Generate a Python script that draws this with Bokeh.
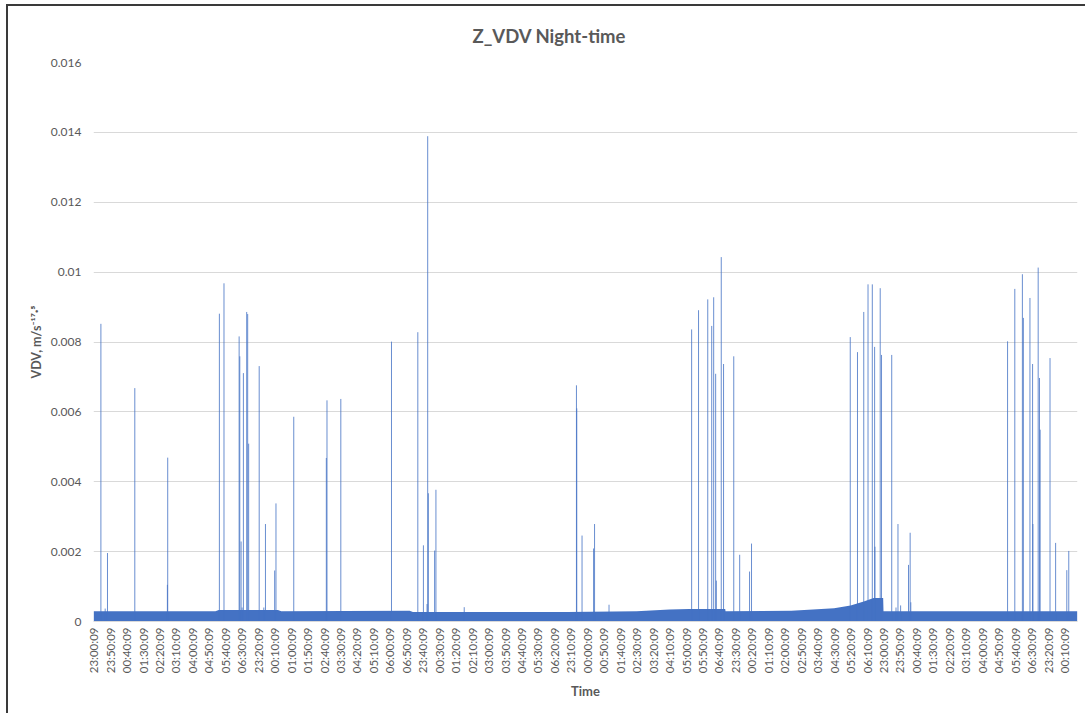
import math
from bokeh.plotting import figure
from bokeh.models import Range1d, FixedTicker, ColumnDataSource
from bokeh.embed import file_html
from bokeh.resources import INLINE

# ---------------- data ----------------
N_POINTS = 2990          # one reading per minute, 23:00:09 onwards, 6+ nights
X_TICK_STEP = 50         # Excel label interval (every 50 categories)

X_TICK_LABELS = [
    "23:00:09", "23:50:09", "00:40:09", "01:30:09", "02:20:09", "03:10:09", "04:00:09", "04:50:09", "05:40:09", "06:30:09",
    "23:20:09", "00:10:09", "01:00:09", "01:50:09", "02:40:09", "03:30:09", "04:20:09", "05:10:09", "06:00:09", "06:50:09",
    "23:40:09", "00:30:09", "01:20:09", "02:10:09", "03:00:09", "03:50:09", "04:40:09", "05:30:09", "06:20:09",
    "23:10:09", "00:00:09", "00:50:09", "01:40:09", "02:30:09", "03:20:09", "04:10:09", "05:00:09", "05:50:09", "06:40:09",
    "23:30:09", "00:20:09", "01:10:09", "02:00:09", "02:50:09", "03:40:09", "04:30:09", "05:20:09", "06:10:09",
    "23:00:09", "23:50:09", "00:40:09", "01:30:09", "02:20:09", "03:10:09", "04:00:09", "04:50:09", "05:40:09", "06:30:09",
    "23:20:09", "00:10:09",
]

Y_TICKS = [0, 0.002, 0.004, 0.006, 0.008, 0.01, 0.012, 0.014, 0.016]
Y_TICK_LABELS = ["0", "0.002", "0.004", "0.006", "0.008", "0.01", "0.012", "0.014", "0.016"]

# background level of the series (upper envelope of the dense baseline band)
BAND_IDX = [0, 370, 380, 560, 570, 960, 970, 1440, 1650, 1750, 1810, 1919,
            1920, 2120, 2250, 2300, 2340, 2370, 2399, 2400, 2989]
BAND_TOP = [0.00029, 0.00029, 0.00033, 0.00033, 0.00029, 0.00031, 0.00027, 0.00027,
            0.00029, 0.00034, 0.00036, 0.00036, 0.00029, 0.00031, 0.00038, 0.00046,
            0.00057, 0.00067, 0.00067, 0.00029, 0.00029]

# isolated peaks (sample index, VDV value)
SPIKE_IDX = [22, 35, 42, 125, 224, 225, 382, 396, 442, 444, 448, 451, 455, 465, 468, 471,
             503, 517, 522, 550, 554, 608, 707, 709, 751, 905, 985, 1002, 1013, 1015, 1017,
             1036, 1040, 1126, 1467, 1468, 1484, 1519, 1522, 1566, 1817, 1838, 1866, 1878,
             1884, 1890, 1892, 1907, 1914, 1945, 1963, 1993, 1999, 2299, 2321, 2340, 2353,
             2366, 2373, 2374, 2390, 2394, 2425, 2438, 2444, 2452, 2476, 2481, 2483, 2777,
             2799, 2822, 2825, 2845, 2853, 2854, 2870, 2874, 2876, 2906, 2923, 2957, 2963]
SPIKE_VAL = [0.00852, 0.00037, 0.00196, 0.00668, 0.00105, 0.00469, 0.00881, 0.00968, 0.00816,
             0.00759, 0.00229, 0.00040, 0.00711, 0.00886, 0.00880, 0.00509, 0.00731, 0.00040,
             0.00279, 0.00146, 0.00338, 0.00586, 0.00468, 0.00633, 0.00637, 0.00801, 0.00828,
             0.00218, 0.00050, 0.01389, 0.00367, 0.00203, 0.00377, 0.00041, 0.00676, 0.00610,
             0.00246, 0.00209, 0.00279, 0.00048, 0.00836, 0.00891, 0.00922, 0.00846, 0.00928,
             0.00709, 0.00117, 0.01043, 0.00737, 0.00759, 0.00191, 0.00143, 0.00223, 0.00814,
             0.00771, 0.00886, 0.00965, 0.00965, 0.00786, 0.00214, 0.00954, 0.00763, 0.00763,
             0.00040, 0.00279, 0.00046, 0.00162, 0.00254, 0.00055, 0.00802, 0.00952, 0.00994,
             0.00869, 0.00926, 0.00737, 0.00279, 0.01013, 0.00697, 0.00549, 0.00754, 0.00225,
             0.00147, 0.00202]

# ---------------- styles ----------------
BLUE = "#4472C4"
TXT = "#595959"
GRID = "#D9D9D9"
FONT = "Lato"

p = figure(width=1079, height=709, output_backend="svg", toolbar_location=None,
           x_range=Range1d(-0.5, N_POINTS - 0.5), y_range=Range1d(0, 0.016),
           min_border_left=85, min_border_right=10, min_border_top=55, min_border_bottom=94)
p.styles = {"margin-left": "6px", "margin-top": "4px",
            "border-left": "2px solid #3a3a3a", "border-top": "2px solid #3a3a3a"}

p.title.text = "Z_VDV Night-time"
p.title.align = "left"
p.title.text_font = FONT
p.title.text_font_size = "18.5px"
p.title.text_font_style = "bold"
p.title.text_color = TXT
p.title.standoff = 32
p.title.offset = 379

p.outline_line_color = None
p.background_fill_color = "white"
p.border_fill_color = "white"

band = ColumnDataSource(dict(x=BAND_IDX, top=BAND_TOP, bottom=[0] * len(BAND_IDX)))
p.varea(x="x", y1="bottom", y2="top", source=band, fill_color=BLUE)

spk = ColumnDataSource(dict(x=SPIKE_IDX, y=SPIKE_VAL, y0=[0] * len(SPIKE_IDX)))
p.segment(x0="x", y0="y0", x1="x", y1="y", source=spk, line_color=BLUE, line_width=1, line_alpha=0.8)

# y axis
p.yaxis.ticker = FixedTicker(ticks=Y_TICKS)
p.yaxis.major_label_overrides = {t: s for t, s in zip(Y_TICKS, Y_TICK_LABELS)}
p.yaxis.axis_line_color = None
p.yaxis.major_tick_line_color = None
p.yaxis.minor_tick_line_color = None
p.yaxis.major_tick_out = 0
p.yaxis.major_label_standoff = 12
p.yaxis.major_label_text_font = FONT
p.yaxis.major_label_text_font_size = "12px"
p.yaxis.major_label_text_color = TXT
p.yaxis.axis_label = "VDV, m/s\u207b\u00b9\u2077\u00b7\u2075"
p.yaxis.axis_label_text_font = FONT
p.yaxis.axis_label_text_font_size = "12.5px"
p.yaxis.axis_label_text_font_style = "bold"
p.yaxis.axis_label_text_color = TXT
p.yaxis.axis_label_standoff = 4

# x axis
x_ticks = [i * X_TICK_STEP for i in range(len(X_TICK_LABELS))]
p.xaxis.ticker = FixedTicker(ticks=x_ticks)
p.xaxis.major_label_overrides = {t: s for t, s in zip(x_ticks, X_TICK_LABELS)}
p.xaxis.major_label_orientation = math.pi / 2
p.xaxis.axis_line_color = GRID
p.xaxis.major_tick_line_color = None
p.xaxis.minor_tick_line_color = None
p.xaxis.major_tick_out = 0
p.xaxis.major_label_standoff = 6
p.xaxis.major_label_text_font = FONT
p.xaxis.major_label_text_font_size = "11.5px"
p.xaxis.major_label_text_color = TXT
p.xaxis.axis_label = "Time"
p.xaxis.axis_label_text_font = FONT
p.xaxis.axis_label_text_font_size = "13px"
p.xaxis.axis_label_text_font_style = "bold"
p.xaxis.axis_label_text_color = TXT
p.xaxis.axis_label_standoff = 7

p.xgrid.grid_line_color = None
p.ygrid.grid_line_color = GRID
p.ygrid.grid_line_width = 1

open("out.html", "w").write(file_html(p, INLINE))
